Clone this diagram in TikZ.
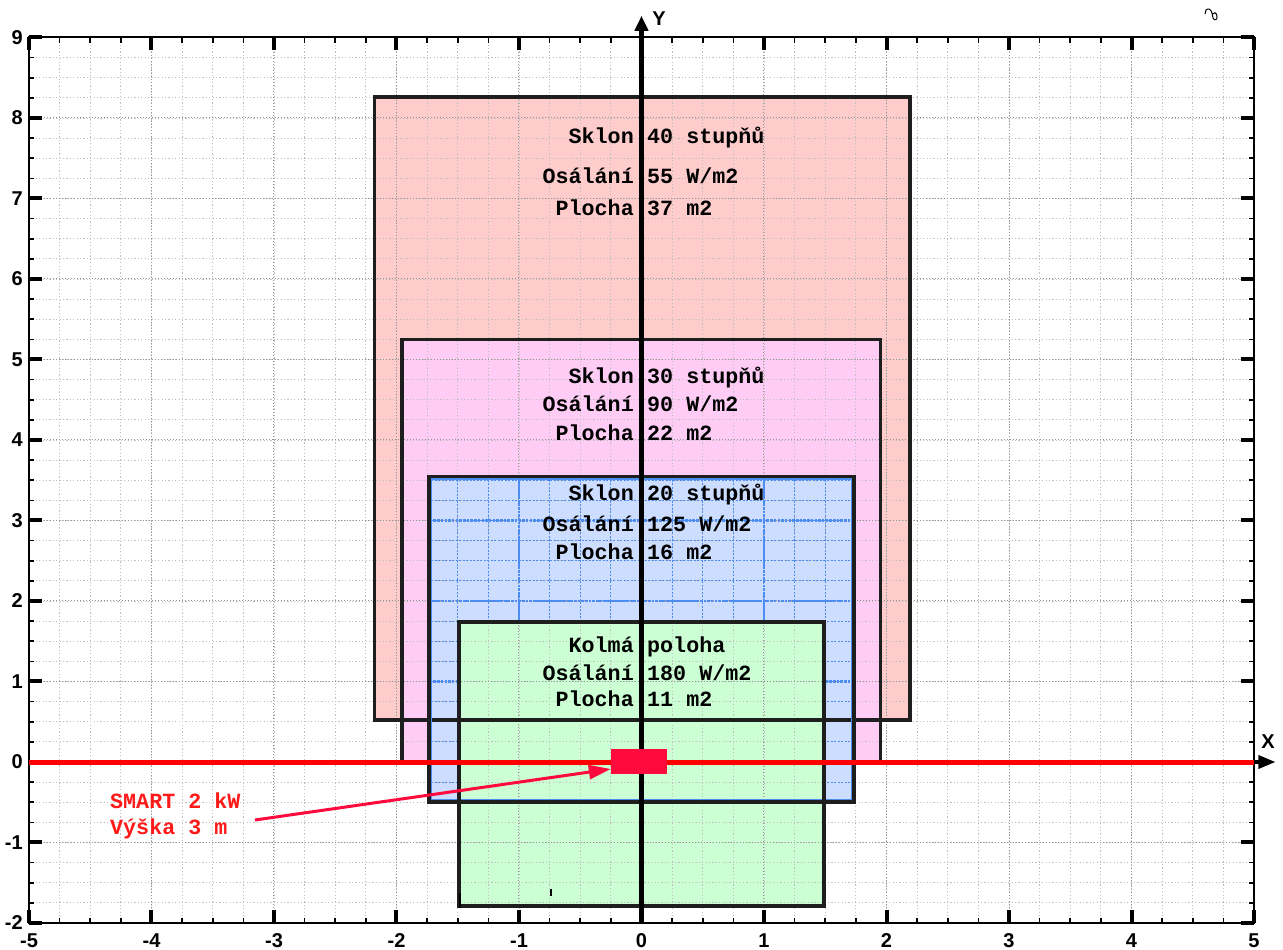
\documentclass[tikz,border=0pt]{standalone}
\usepackage{fontspec}
\setmainfont{Liberation Sans}
\setmonofont{Liberation Mono}
\usetikzlibrary{arrows.meta}
\definecolor{redfill}{HTML}{FFCCCC}
\definecolor{magfill}{HTML}{FFCCF6}
\definecolor{bluefill}{HTML}{CCDDFF}
\definecolor{greenfill}{HTML}{CCFFD4}
\definecolor{edgecol}{HTML}{1E1E1E}
\definecolor{bluegrid}{HTML}{4D8CF0}
\definecolor{smartred}{HTML}{FF1A1A}
\definecolor{boxred}{HTML}{FF0A3C}
\tikzset{
 pxs/.style={shift={(-641.5pt,762pt)},x=1pt,y=-1pt},
 mingrid/.style={draw=black!25, line width=0.9pt, dash pattern=on 1.2pt off 2.2pt},
 majgrid/.style={draw=black!42, line width=1pt, dash pattern=on 1.2pt off 1.8pt},
 rectedge/.style={draw=edgecol, line width=3.6pt},
 majtick/.style={line width=4pt},
 mintick/.style={line width=1.6pt},
 ticklab/.style={font=\fontsize{20}{22}\selectfont\bfseries, inner sep=0},
 boxtxt/.style={font=\fontsize{21.7}{26}\selectfont\ttfamily\bfseries, inner sep=0, text=black},
 smarttxt/.style={boxtxt, text=smartred},
}
\begin{document}
\begin{tikzpicture}[x=122.5pt,y=80.5pt]
\begin{scope}[pxs]
\useasboundingbox (0,0) rectangle (1283,950);
\end{scope}
% fills
\fill[redfill] (-2.18,0.52) rectangle (2.19,8.26);
\fill[magfill] (-1.955,0) rectangle (1.95,5.25);
\fill[bluefill] (-1.735,-0.5) rectangle (1.735,3.545);
% grid
\draw[mingrid] (-5,-2) grid[xstep=0.25,ystep=0.25] (5,9);
\draw[majgrid] (-5,-2) grid[xstep=1,ystep=1] (5,9);
\begin{scope}
\clip (-1.735,-0.5) rectangle (1.735,3.545);
\draw[bluegrid, line width=1.2pt, dash pattern=on 2pt off 1.5pt] (-2,-1) grid[xstep=0.25,ystep=0.25] (2,4);
\draw[bluegrid, line width=2.2pt, dash pattern=on 2.5pt off 1.2pt] (-2,-1) grid[xstep=1,ystep=1] (2,4);
\end{scope}
\fill[greenfill] (-1.49,-1.79) rectangle (1.49,1.74);
\begin{scope}
\clip (-1.49,-1.79) rectangle (1.49,1.74);
\draw[mingrid] (-5,-2) grid[xstep=0.25,ystep=0.25] (5,9);
\draw[majgrid] (-5,-2) grid[xstep=1,ystep=1] (5,9);
\end{scope}
% outlines
\draw[rectedge] (-2.18,0.52) rectangle (2.19,8.26);
\draw[rectedge] (-1.955,0) rectangle (1.95,5.25);
\draw[rectedge] (-1.735,-0.5) rectangle (1.735,3.545);
\draw[bluegrid, line width=1.6pt] (-1.713,-0.468) rectangle (1.713,3.513);
\draw[rectedge] (-1.49,-1.79) rectangle (1.49,1.74);
\begin{scope}[pxs]
\draw[line width=2.4pt] (460,893) -- (460,908);
\draw[line width=2.8pt] (551,889) -- (551,896);
\end{scope}
% frame
\draw[line width=2pt] (-5,-2) rectangle (5,9);
\foreach \i in {-5,...,5} {
  \draw[majtick] (\i,-2) -- ++(0,0.16);
  \draw[majtick] (\i,9) -- ++(0,-0.16);
}
\foreach \j in {-2,...,9} {
  \draw[majtick] (-5,\j) -- ++(0.106,0);
  \draw[majtick] (5,\j) -- ++(-0.106,0);
}
\foreach \k in {1,...,39} {
  \draw[mintick] (-5+\k*0.25,-2) -- ++(0,0.065);
  \draw[mintick] (-5+\k*0.25,9) -- ++(0,-0.065);
}
\foreach \k in {1,...,43} {
  \draw[mintick] (-5,-2+\k*0.25) -- ++(0.042,0);
  \draw[mintick] (5,-2+\k*0.25) -- ++(-0.042,0);
}
% tick labels
\foreach \i [count=\c] in {-5,...,5} {
  \node[ticklab] (xt\c) at (\i,-2.215) {\i};
}
\foreach \j [count=\c] in {-2,...,9} {
  \node[ticklab, anchor=east] (yt\c) at (-5.05,\j) {\j};
}
% axes
\draw[red, line width=4.4pt] (-5,-0.005) -- (5,-0.005);
\draw[line width=3.4pt, -{Triangle[length=17pt,width=13pt]}] (5,0) -- (5.175,0);
\draw[line width=4.6pt, -{Triangle[length=15pt,width=13pt]}] (0,-2) -- (0,9.27);
\begin{scope}[pxs]
\node[ticklab] (ylab) at (659,19) {Y};
\node[ticklab] (xlab) at (1268,742) {X};
\draw[line width=1pt] (1205,14) -- (1206,10) .. controls (1208,8) and (1211,9) .. (1212,13) -- (1213,18) .. controls (1214,21) and (1218,20) .. (1217,16) .. controls (1216,12) and (1214,12) .. (1213,14);
% inverter
\node[fill=boxred, minimum width=56pt, minimum height=25pt, inner sep=0] (inv) at (639,762) {};
\node[smarttxt, anchor=base west] (smart1) at (110,809) {SMART 2 kW};
\node[smarttxt, anchor=base west] (smart2) at (110,835) {Výška 3 m};
\coordinate (atail) at (255,820);
\draw[boxred, line width=3pt, -{Triangle[length=22pt,width=14pt]}] (atail) -- ([yshift=-7pt]inv.west);
% box texts
\node[boxtxt, anchor=base east] (r1a) at (634,144) {Sklon};
\node[boxtxt, anchor=base west] (r1b) at (647,144) {40 stupňů};
\node[boxtxt, anchor=base east] (r2a) at (634,184) {Osálání};
\node[boxtxt, anchor=base west] (r2b) at (647,184) {55 W/m2};
\node[boxtxt, anchor=base east] (r3a) at (634,216) {Plocha};
\node[boxtxt, anchor=base west] (r3b) at (647,216) {37 m2};
\node[boxtxt, anchor=base east] (m1a) at (634,384) {Sklon};
\node[boxtxt, anchor=base west] (m1b) at (647,384) {30 stupňů};
\node[boxtxt, anchor=base east] (m2a) at (634,412) {Osálání};
\node[boxtxt, anchor=base west] (m2b) at (647,412) {90 W/m2};
\node[boxtxt, anchor=base east] (m3a) at (634,441) {Plocha};
\node[boxtxt, anchor=base west] (m3b) at (647,441) {22 m2};
\node[boxtxt, anchor=base east] (b1a) at (634,501) {Sklon};
\node[boxtxt, anchor=base west] (b1b) at (647,501) {20 stupňů};
\node[boxtxt, anchor=base east] (b2a) at (634,532) {Osálání};
\node[boxtxt, anchor=base west] (b2b) at (647,532) {125 W/m2};
\node[boxtxt, anchor=base east] (b3a) at (634,560) {Plocha};
\node[boxtxt, anchor=base west] (b3b) at (647,560) {16 m2};
\node[boxtxt, anchor=base east] (g1a) at (634,653) {Kolmá};
\node[boxtxt, anchor=base west] (g1b) at (647,653) {poloha};
\node[boxtxt, anchor=base east] (g2a) at (634,681) {Osálání};
\node[boxtxt, anchor=base west] (g2b) at (647,681) {180 W/m2};
\node[boxtxt, anchor=base east] (g3a) at (634,707) {Plocha};
\node[boxtxt, anchor=base west] (g3b) at (647,707) {11 m2};
\end{scope}
\end{tikzpicture}
\end{document}
